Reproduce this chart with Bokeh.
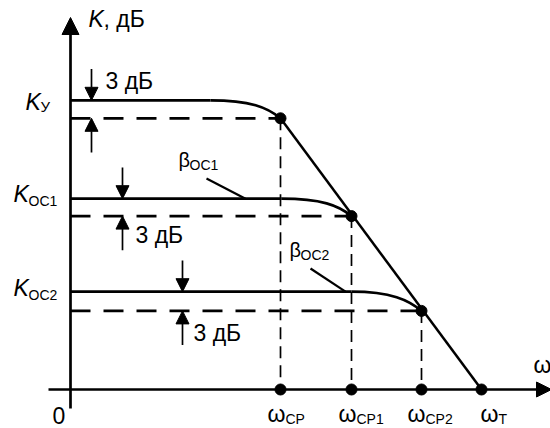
from bokeh.plotting import figure
from bokeh.models import Range1d, Arrow, NormalHead
from bokeh.core.properties import value
from bokeh.embed import file_html
from bokeh.resources import INLINE

# ---------------- data (schematic units: x in ω-units, y in dB) ----------------
LEVEL_SUB = ["У", "OC1", "OC2"]          # K_У, K_OC1, K_OC2
K_LEVEL = [48.2, 31.8, 16.3]             # flat gain levels, dB
K_CUT = [45.2, 28.9, 13.1]               # levels 3 dB lower (at the corner)
W_CUT = [21.0, 28.1, 35.1]               # ω_CP, ω_CP1, ω_CP2
W_T = 41.1                               # ω_T
W_SUB = ["CP", "CP1", "CP2", "T"]
BETA_SUB = ["OC1", "OC2"]
DB_TEXT = "3 дБ"

# ---------------- layout helpers (canvas pixels -> data) ----------------
W, H = 550, 428
OX, OY = 70.0, 389.0      # canvas position of the origin
SX, SY = 10.0, 6.0        # pixels per unit


def X(px):
    return (px - OX) / SX


def Y(py):
    return (OY - py) / SY


FONT = "Liberation Sans"
BLACK = "black"
BASE_SHIFT = 0.3465       # em: renderer places the baseline this far below y

p = figure(width=W, height=H, output_backend="svg", toolbar_location=None,
           x_axis_type=None, y_axis_type=None, min_border=0,
           x_range=Range1d(X(0), X(W)), y_range=Range1d(Y(H), Y(0)))
p.outline_line_color = None
p.grid.visible = False
p.background_fill_color = "white"
p.border_fill_color = "white"


def txt(px, py, s, size, italic=False):
    """px = left edge, py = baseline, in canvas pixels."""
    p.text(x=[X(px)], y=[Y(py - BASE_SHIFT * size)], text=[s], text_font=value(FONT),
           text_font_size=value(f"{size}px"),
           text_font_style="italic" if italic else "normal",
           text_align="left", text_baseline="alphabetic", text_color=BLACK)


# ---------------- axes with arrows ----------------
p.add_layout(Arrow(x_start=0, y_start=Y(408), x_end=0, y_end=Y(17),
                   line_width=2.7, line_color=BLACK,
                   end=NormalHead(size=17, fill_color=BLACK, line_color=BLACK, line_width=1)))
p.add_layout(Arrow(x_start=X(48), y_start=0, x_end=X(551), y_end=0,
                   line_width=2.7, line_color=BLACK,
                   end=NormalHead(size=15, fill_color=BLACK, line_color=BLACK, line_width=1)))

# ---------------- flat levels and roll-off curves ----------------
FLAT_LEN = 7.0
p.segment(x0=[0] * 3, y0=K_LEVEL, x1=[w - FLAT_LEN for w in W_CUT], y1=K_LEVEL,
          line_width=2.7, line_color=BLACK)
p.bezier(x0=[w - FLAT_LEN for w in W_CUT], y0=K_LEVEL,
         x1=W_CUT, y1=K_CUT,
         cx0=[w - 3.0 for w in W_CUT], cy0=K_LEVEL,
         cx1=[w - 1.3 for w in W_CUT], cy1=[k + 1.8 for k in K_CUT],
         line_width=2.7, line_color=BLACK)

# dashed -3 dB levels and verticals
p.segment(x0=[0] * 3, y0=K_CUT, x1=W_CUT, y1=K_CUT,
          line_width=2.7, line_color=BLACK, line_dash="20 13")
p.segment(x0=W_CUT, y0=K_CUT, x1=W_CUT, y1=[0] * 3,
          line_width=1.7, line_color=BLACK, line_dash="12 7")

# open-loop roll-off line
p.line(x=[W_CUT[0], W_T], y=[K_CUT[0], 0], line_width=2.5, line_color=BLACK)

# dots
p.scatter(x=W_CUT, y=K_CUT, size=11, color=BLACK)
p.scatter(x=W_CUT + [W_T], y=[0] * 4, size=11, color=BLACK)

# ---------------- 3 dB arrows ----------------
ARROW_PX = [91, 122, 182]
DOWN_LEN, UP_LEN = 5.2, 5.7
for i, ax in enumerate(ARROW_PX):
    xa = X(ax)
    p.add_layout(Arrow(x_start=xa, y_start=K_LEVEL[i] + DOWN_LEN, x_end=xa, y_end=K_LEVEL[i],
                       line_width=1.7, line_color=BLACK,
                       end=NormalHead(size=13, fill_color=BLACK, line_color=BLACK, line_width=1)))
    p.add_layout(Arrow(x_start=xa, y_start=K_CUT[i] - UP_LEN, x_end=xa, y_end=K_CUT[i],
                       line_width=1.7, line_color=BLACK,
                       end=NormalHead(size=13, fill_color=BLACK, line_color=BLACK, line_width=1)))

txt(105, 88, DB_TEXT, 23)
txt(135, 242, DB_TEXT, 23)
txt(193, 340, DB_TEXT, 23)

# ---------------- β leaders ----------------
p.segment(x0=[X(206), X(310)], y0=[Y(178), Y(268)],
          x1=[X(245), X(345)], y1=[K_LEVEL[1], K_LEVEL[2]],
          line_width=2.2, line_color=BLACK)
txt(178, 166, "β", 20)
txt(189, 169, BETA_SUB[0], 14)
txt(289, 256, "β", 20)
txt(300, 259, BETA_SUB[1], 14)

# ---------------- axis labels ----------------
txt(88, 26, "K", 23, italic=True)
txt(103, 26, ", дБ", 23)
txt(533, 372, "ω", 23)
txt(52, 423, "0", 23)

# K labels
K_LABEL_PX = [(25, 109, 40, 111), (13, 201, 28, 205), (13, 295, 28, 299)]
for i, (kx, ky, sx, sy) in enumerate(K_LABEL_PX):
    txt(kx, ky, "K", 23, italic=True)
    txt(sx, sy, LEVEL_SUB[i], 15 if i == 0 else 14)

# ω labels under the axis
W_LABEL_OFF = [-13, -13, -14, -1]
for i, w in enumerate(W_CUT + [W_T]):
    left = OX + w * SX + W_LABEL_OFF[i]
    txt(left, 421, "ω", 23)
    txt(left + 18, 423, W_SUB[i], 14)

open("out.html", "w").write(file_html(p, INLINE))
